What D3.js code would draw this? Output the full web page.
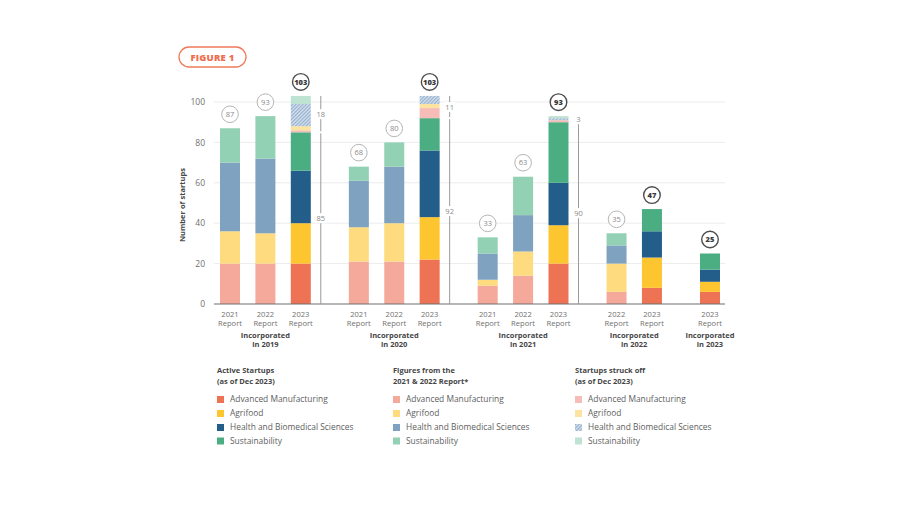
<!DOCTYPE html>
<html>
<head>
<meta charset="utf-8">
<script src="https://cdn.jsdelivr.net/npm/d3@7"></script>
<style>
  body { margin: 0; background: #fff; }
  svg { font-family: "Open Sans", Lato, sans-serif; }
</style>
</head>
<body>
<svg id="chart" width="900" height="506"></svg>
<script>
// bars, left to right
const barGroup  = [0, 0, 0, 1, 1, 1, 2, 2, 2, 3, 3, 4];
const barReport = ["2021", "2022", "2023", "2021", "2022", "2023", "2021", "2022", "2023", "2022", "2023", "2023"];
const groupYears = ["2019", "2020", "2021", "2022", "2023"];

// active (or reported) startups per sector
const advMfg   = [20, 20, 20, 21, 21, 22,  9, 14, 20,  6,  8, 6];
const agrifood = [16, 15, 20, 17, 19, 21,  3, 12, 19, 14, 15, 5];
const health   = [34, 37, 26, 23, 28, 33, 13, 18, 21,  9, 13, 6];
const sustain  = [17, 21, 19,  7, 12, 16,  8, 19, 30,  6, 11, 8];

// startups struck off (as of Dec 2023)
const offAdvMfg   = [0, 0,  1, 0, 0, 5, 0, 0, 1, 0, 0, 0];
const offAgrifood = [0, 0,  2, 0, 0, 2, 0, 0, 0, 0, 0, 0];
const offHealth   = [0, 0, 11, 0, 0, 4, 0, 0, 1, 0, 0, 0];
const offSustain  = [0, 0,  4, 0, 0, 0, 0, 0, 1, 0, 0, 0];

const yTicks = [0, 20, 40, 60, 80, 100];

const activeColors = ["#ee7254", "#fdc52f", "#235d8a", "#4bae83"];
const paleColors   = ["#f5a99b", "#fddb7e", "#7fa2c0", "#93d1b5"];
const offColors    = ["#f6bdb8", "#fde3a0", "url(#hatch)", "#bfe3d2"];

const keys = ["adv", "agri", "health", "sust", "oAdv", "oAgri", "oHealth", "oSust"];
const table = barGroup.map((g, i) => ({
  i: i, group: g, report: barReport[i],
  adv: advMfg[i], agri: agrifood[i], health: health[i], sust: sustain[i],
  oAdv: offAdvMfg[i], oAgri: offAgrifood[i], oHealth: offHealth[i], oSust: offSustain[i]
}));
table.forEach(d => {
  d.active = d.adv + d.agri + d.health + d.sust;
  d.off = d.oAdv + d.oAgri + d.oHealth + d.oSust;
  d.total = d.active + d.off;
  d.slot = d.i + d.group * 0.64;
});

const svg = d3.select("#chart");
const barW = 20;

const x = d3.scaleLinear()
  .domain([0, d3.max(table, d => d.slot)])
  .range([230, 710]);
const y = d3.scaleLinear().domain([0, 100]).range([304, 102]);

// hatch pattern for struck-off health startups
const defs = svg.append("defs");
const pat = defs.append("pattern")
  .attr("id", "hatch")
  .attr("patternUnits", "userSpaceOnUse")
  .attr("width", 2.5).attr("height", 2.5)
  .attr("patternTransform", "rotate(45)");
pat.append("rect").attr("width", 2.5).attr("height", 2.5).attr("fill", "#d3e0ec");
pat.append("rect").attr("width", 1.1).attr("height", 2.5).attr("fill", "#93aecd");

// figure tag
svg.append("rect")
  .attr("x", 179).attr("y", 47).attr("width", 67).attr("height", 20).attr("rx", 10)
  .attr("fill", "none").attr("stroke", "#f07a5a").attr("stroke-width", 1.3);
svg.append("text")
  .attr("x", 212.5).attr("y", 60.5).attr("text-anchor", "middle")
  .attr("fill", "#ef6e4f").attr("font-size", 9.5).attr("font-weight", 800)
  .attr("letter-spacing", 0.2)
  .text("FIGURE 1");

// grid
svg.append("g").selectAll("line")
  .data(yTicks.filter(t => t > 0))
  .join("line")
  .attr("x1", 214).attr("x2", 725)
  .attr("y1", d => y(d)).attr("y2", d => y(d))
  .attr("stroke", "#ececec").attr("stroke-width", 1);

// y axis labels
const yAxis = svg.append("g")
  .attr("transform", "translate(205,0)")
  .call(d3.axisLeft(y).tickValues(yTicks).tickSize(0).tickPadding(0));
yAxis.select(".domain").remove();
yAxis.selectAll("text")
  .attr("fill", "#707070").attr("font-size", 8.5)
  .attr("font-family", "'Open Sans', sans-serif");

svg.append("text")
  .attr("transform", `translate(185,${y(49)}) rotate(-90)`)
  .attr("text-anchor", "middle")
  .attr("fill", "#4a4a4a").attr("font-size", 7.5).attr("font-weight", 700)
  .text("Number of startups");

// stacked bars
const stacked = d3.stack().keys(keys)(table);
const fillFor = (k, d) => {
  const idx = keys.indexOf(k);
  if (idx >= 4) return offColors[idx - 4];
  return d.report === "2023" ? activeColors[idx] : paleColors[idx];
};

svg.append("g").selectAll("g")
  .data(stacked)
  .join("g")
  .selectAll("rect")
  .data(s => s.map(v => ({ key: s.key, v: v })))
  .join("rect")
  .filter(d => d.v[1] > d.v[0])
  .attr("x", d => x(d.v.data.slot) - barW / 2)
  .attr("width", barW)
  .attr("y", d => y(d.v[1]))
  .attr("height", d => y(d.v[0]) - y(d.v[1]))
  .attr("fill", d => fillFor(d.key, d.v.data));

// baseline
svg.append("line")
  .attr("x1", 214).attr("x2", 725)
  .attr("y1", y(0)).attr("y2", y(0))
  .attr("stroke", "#6e6e6e").attr("stroke-width", 1.1);

// total bubbles
const bubble = svg.append("g").selectAll("g")
  .data(table)
  .join("g")
  .attr("transform", d => `translate(${x(d.slot)},${y(d.total) - 14})`);
bubble.append("circle")
  .attr("r", 8.3)
  .attr("fill", "#fff")
  .attr("stroke", d => d.report === "2023" ? "#4d4d4d" : "#b5b5b5")
  .attr("stroke-width", d => d.report === "2023" ? 1.4 : 1);
bubble.append("text")
  .attr("text-anchor", "middle").attr("dy", "0.35em")
  .attr("font-size", 7.5)
  .attr("font-weight", d => d.report === "2023" ? 800 : 400)
  .attr("fill", d => d.report === "2023" ? "#3a3a3a" : "#8a8a8a")
  .text(d => d.total);

// bracket annotations for bars with struck-off startups
const ann = svg.append("g").selectAll("g")
  .data(table.filter(d => d.off > 0))
  .join("g")
  .attr("transform", d => `translate(${x(d.slot) + barW / 2 + 10},0)`);
ann.append("line")
  .attr("y1", d => y(d.total)).attr("y2", d => y(d.active) - 1)
  .attr("stroke", "#9a9a9a").attr("stroke-width", 1);
ann.append("line")
  .attr("y1", d => y(d.active) + 1).attr("y2", y(0))
  .attr("stroke", "#9a9a9a").attr("stroke-width", 1);
[["off", d => (d.total + d.active) / 2], ["active", d => d.active / 2]].forEach(([field, mid]) => {
  ann.append("rect")
    .attr("x", -6).attr("width", 12)
    .attr("y", d => y(mid(d)) - 5).attr("height", 10)
    .attr("fill", "#fff");
  ann.append("text")
    .attr("text-anchor", "middle").attr("dy", "0.35em")
    .attr("y", d => y(mid(d)))
    .attr("font-size", 7.5).attr("fill", "#8a8a8a")
    .text(d => d[field]);
});

// x labels
const xl = svg.append("g").selectAll("text")
  .data(table)
  .join("text")
  .attr("text-anchor", "middle")
  .attr("font-size", 7.6).attr("fill", "#707070");
xl.append("tspan").attr("x", d => x(d.slot)).attr("y", 316.5).text(d => d.report);
xl.append("tspan").attr("x", d => x(d.slot)).attr("y", 326).text("Report");

const groupCenters = groupYears.map((g, gi) => d3.mean(table.filter(d => d.group === gi), d => x(d.slot)));
const gl = svg.append("g").selectAll("text")
  .data(groupYears)
  .join("text")
  .attr("text-anchor", "middle")
  .attr("font-size", 7.5).attr("font-weight", 700).attr("fill", "#454545");
gl.append("tspan").attr("x", (d, i) => groupCenters[i]).attr("y", 337.5).text("Incorporated");
gl.append("tspan").attr("x", (d, i) => groupCenters[i]).attr("y", 347).text(d => "in " + d);

// legend
const sectors = ["Advanced Manufacturing", "Agrifood", "Health and Biomedical Sciences", "Sustainability"];
const legendCols = [
  { x: 217, title: ["Active Startups", "(as of Dec 2023)"], colors: activeColors },
  { x: 393, title: ["Figures from the", "2021 & 2022 Report*"], colors: paleColors },
  { x: 575, title: ["Startups struck off", "(as of Dec 2023)"], colors: offColors }
];
const legendRows = [399.5, 413.5, 427.5, 441];

const lg = svg.append("g").selectAll("g")
  .data(legendCols)
  .join("g")
  .attr("transform", d => `translate(${d.x},0)`);
lg.append("text")
  .attr("font-size", 7.5).attr("font-weight", 700).attr("fill", "#454545")
  .selectAll("tspan")
  .data(d => d.title)
  .join("tspan")
  .attr("x", 0).attr("y", (d, i) => 373 + i * 11)
  .text(d => d);
const item = lg.selectAll("g.item")
  .data(c => sectors.map((s, i) => ({ s: s, color: c.colors[i], row: legendRows[i] })))
  .join("g").attr("class", "item");
item.append("rect")
  .attr("x", 0).attr("y", d => d.row - 3.5).attr("width", 7).attr("height", 7)
  .attr("fill", d => d.color);
item.append("text")
  .attr("x", 13).attr("y", d => d.row).attr("dy", "0.35em")
  .attr("font-size", 8.4).attr("fill", "#5e5e5e")
  .text(d => d.s);
</script>
</body>
</html>
